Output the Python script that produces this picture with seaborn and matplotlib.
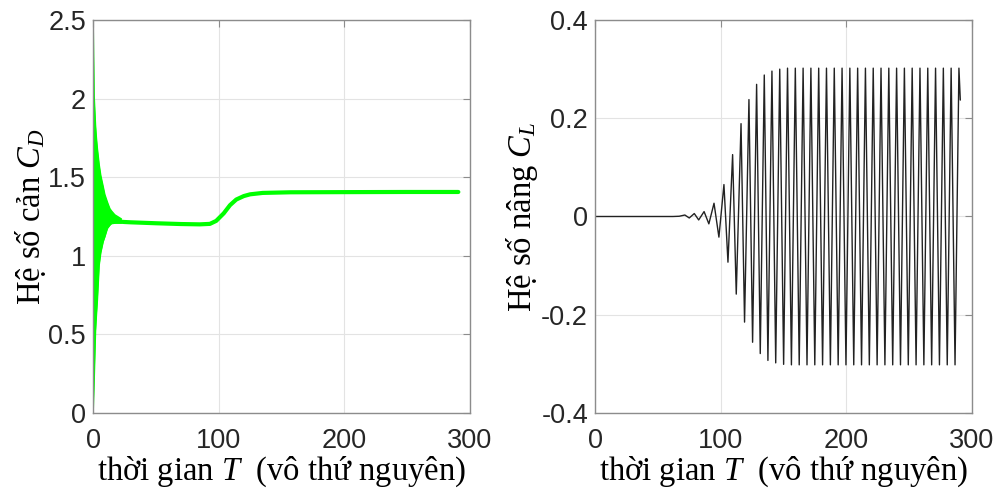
import numpy as np
import matplotlib
matplotlib.use('Agg')
import matplotlib.pyplot as plt
import seaborn as sns

sns.set_style('white')
plt.rcParams['font.family'] = ['Liberation Sans', 'DejaVu Sans']
plt.rcParams['mathtext.fontset'] = 'custom'
plt.rcParams['mathtext.rm'] = 'Liberation Serif'
plt.rcParams['mathtext.it'] = 'Liberation Serif:italic'
plt.rcParams['axes.unicode_minus'] = False

# ---- drag coefficient C_D ----
# dense start-up band: upper / lower envelope
cd_band_t = [0, 0.8, 1.9, 2.6, 3.4, 4.8, 6.1, 8, 9.3, 11.4, 13.3, 14.6, 17.3, 22.5]
cd_band_hi = [2.5, 2.02, 1.83, 1.75, 1.68, 1.58, 1.51, 1.44, 1.39, 1.34, 1.30, 1.285, 1.26, 1.234]
cd_band_lo = [0.0, 0.2, 0.52, 0.62, 0.72, 0.94, 1.02, 1.09, 1.12, 1.175, 1.195, 1.205, 1.208, 1.21]
# mean curve
cd_t = [0, 5, 10, 15, 20, 25, 30, 50, 70, 85, 93, 98, 104, 109, 114, 120, 125, 135, 157, 200, 250, 290.7]
cd_val = [1.25, 1.25, 1.24, 1.225, 1.218, 1.215, 1.213, 1.207, 1.202, 1.200, 1.203, 1.222, 1.27,
          1.322, 1.358, 1.38, 1.391, 1.400, 1.404, 1.405, 1.406, 1.406]

# ---- lift coefficient C_L: successive extremes ----
cl_t = [0, 62, 67, 71.5, 75, 79, 82.5, 86.8, 90.6, 94.7, 98.6, 102.6, 105.8, 109.5, 112.4,
        116.2, 119.0, 122.5, 125.4, 128.6, 131.5, 134.7, 137.6, 140.8, 143.8, 147.0,
        150.1, 153.2, 156.3, 159.4, 162.5, 165.6, 168.7, 171.8, 174.9, 178.0, 181.1, 184.2,
        187.3, 190.4, 193.5, 196.6, 199.7, 202.8, 205.9, 209.0, 212.1, 215.2, 218.3, 221.4,
        224.5, 227.6, 230.7, 233.8, 236.9, 240.0, 243.1, 246.2, 249.3, 252.4, 255.5, 258.6,
        261.7, 264.8, 267.9, 271.0, 274.1, 277.2, 280.3, 283.4, 286.5, 289.6, 290.7]
cl_val = [0, 0, 0.0005, 0.003, -0.003, 0.006, -0.007, 0.010, -0.015, 0.027, -0.042, 0.065,
          -0.093, 0.126, -0.158, 0.189, -0.215, 0.238, -0.256, 0.269, -0.279, 0.288, -0.293,
          0.296, -0.298, 0.300,
          -0.301, 0.302, -0.302, 0.302, -0.302, 0.302, -0.302, 0.302, -0.302, 0.302, -0.302, 0.302,
          -0.302, 0.302, -0.302, 0.302, -0.302, 0.302, -0.302, 0.302, -0.302, 0.302, -0.302, 0.302,
          -0.302, 0.302, -0.302, 0.302, -0.302, 0.302, -0.302, 0.302, -0.302, 0.302, -0.302, 0.302,
          -0.302, 0.302, -0.302, 0.302, -0.302, 0.302, -0.302, 0.302, -0.302, 0.302, 0.237]

xticks = [0, 100, 200, 300]
cd_ticks = [0, 0.5, 1, 1.5, 2, 2.5]
cd_ticklabels = ['0', '0.5', '1', '1.5', '2', '2.5']
cl_ticks = [-0.4, -0.2, 0, 0.2, 0.4]
cl_ticklabels = ['-0.4', '-0.2', '0', '0.2', '0.4']

xlabel = 'thời gian $T$  (vô thứ nguyên)'
cd_label = 'Hệ số cản $C_D$'
cl_label = 'Hệ số nâng $C_L$'

fig = plt.figure(figsize=(9.96, 4.94), dpi=100)
ax1 = fig.add_axes([0.0934, 0.164, 0.3785, 0.7955])
ax2 = fig.add_axes([0.5974, 0.164, 0.3785, 0.7955])

ax1.fill_between(cd_band_t, cd_band_lo, cd_band_hi, color='#00ff00', lw=0)
sns.lineplot(x=cd_band_t, y=cd_band_hi, ax=ax1, color='#00ff00', lw=1.2, sort=False, estimator=None)
sns.lineplot(x=cd_band_t, y=cd_band_lo, ax=ax1, color='#00ff00', lw=1.2, sort=False, estimator=None)
sns.lineplot(x=cd_t, y=cd_val, ax=ax1, color='#00ff00', lw=3.0, sort=False, estimator=None)

sns.lineplot(x=cl_t, y=cl_val, ax=ax2, color='#222222', lw=1.0, sort=False, estimator=None)

for ax, yt, ytl, ylab, ylim in [(ax1, cd_ticks, cd_ticklabels, cd_label, (0, 2.5)),
                                (ax2, cl_ticks, cl_ticklabels, cl_label, (-0.4, 0.4))]:
    ax.set_xlim(0, 300)
    ax.set_ylim(*ylim)
    ax.set_xticks(xticks)
    ax.set_xticklabels([str(v) for v in xticks])
    ax.set_yticks(yt)
    ax.set_yticklabels(ytl)
    ax.grid(True, color='#e3e3e3', lw=0.8)
    ax.set_axisbelow(True)
    for s in ax.spines.values():
        s.set_visible(True)
        s.set_color('#8c8c8c')
        s.set_linewidth(1.0)
    ax.tick_params(direction='in', length=5, width=0.8, color='#8c8c8c',
                   top=True, right=True, labelsize=19.5, labelcolor='#262626')
    ax.tick_params(axis='x', pad=11)
    ax.tick_params(axis='y', pad=5)
    ax.set_xlabel(xlabel, family='Liberation Serif', fontsize=23.5, color='black', labelpad=0)
    ax.set_ylabel(ylab, family='Liberation Serif', fontsize=23.5, color='black', labelpad=0.5)

fig.savefig('out.png', dpi=100)
